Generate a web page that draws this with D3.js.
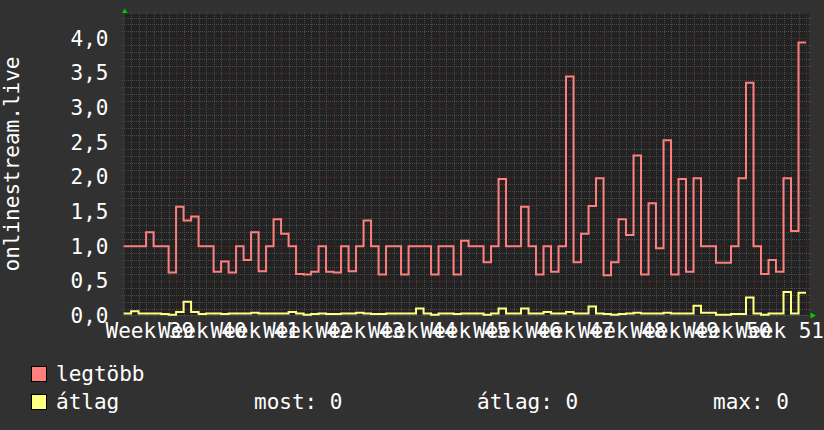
<!DOCTYPE html>
<html>
<head>
  <meta charset="utf-8">
  <title>onlinestream.live</title>
  <script src="https://d3js.org/d3.v7.min.js"></script>
  <style>
    body { margin: 0; background: #313131; }
    text { font-family: "DejaVu Sans Mono", monospace; fill: #ffffff; }
  </style>
</head>
<body>
  <svg id="chart"></svg>

  <script>
    // napi értékek, Week 39 hétfőtől
    var weekLabels = ['Week 39', 'Week 40', 'Week 41', 'Week 42', 'Week 43', 'Week 44', 'Week 45',
      'Week 46', 'Week 47', 'Week 48', 'Week 49', 'Week 50', 'Week 51'];

    var legtobb = [
      1.0, 1.0, 1.0, 1.2, 1.0, 1.0, 0.62, 1.57, 1.37, 1.43,
      1.0, 1.0, 0.63, 0.78, 0.62, 1.0, 0.8, 1.2, 0.64, 1.0,
      1.39, 1.18, 1.0, 0.6, 0.59, 0.63, 1.0, 0.63, 0.62, 1.0,
      0.64, 1.0, 1.37, 1.0, 0.59, 1.0, 1.0, 0.59, 1.0, 1.0,
      1.0, 0.59, 1.0, 1.0, 0.59, 1.08, 1.0, 1.0, 0.77, 1.0,
      1.97, 1.0, 1.0, 1.57, 1.0, 0.59, 1.0, 0.63, 1.0, 3.45,
      0.77, 1.18, 1.58, 1.98, 0.58, 0.77, 1.39, 1.16, 2.31, 0.59,
      1.62, 0.97, 2.53, 0.59, 1.97, 0.63, 1.98, 1.0, 1.0, 0.76,
      0.76, 1.0, 1.98, 3.36, 1.0, 0.6, 0.8, 0.63, 1.98, 1.22,
      3.94
    ];

    var atlag = [
      0.03, 0.06, 0.03, 0.03, 0.03, 0.02, 0.01, 0.05, 0.2, 0.05,
      0.02, 0.03, 0.03, 0.02, 0.03, 0.03, 0.03, 0.04, 0.03, 0.03,
      0.03, 0.03, 0.05, 0.03, 0.01, 0.02, 0.03, 0.02, 0.02, 0.03,
      0.03, 0.04, 0.03, 0.02, 0.02, 0.03, 0.03, 0.03, 0.03, 0.1,
      0.03, 0.01, 0.03, 0.03, 0.02, 0.03, 0.03, 0.03, 0.01, 0.03,
      0.1, 0.03, 0.03, 0.1, 0.03, 0.03, 0.05, 0.03, 0.03, 0.05,
      0.03, 0.03, 0.13, 0.03, 0.02, 0.01, 0.02, 0.03, 0.04, 0.03,
      0.03, 0.03, 0.04, 0.03, 0.03, 0.03, 0.14, 0.04, 0.04, 0.01,
      0.01, 0.02, 0.02, 0.26, 0.03, 0.01, 0.03, 0.03, 0.34, 0.03,
      0.33
    ];

    var yTicks = [0, 0.5, 1.0, 1.5, 2.0, 2.5, 3.0, 3.5, 4.0];
    var statLabels = ['most: 0', 'átlag: 0', 'max: 0'];

    var svgWidth = 824;
    var svgHeight = 430;
    var plotLeft = 124, plotRight = 809, plotTop = 14, plotBottom = 315.5;

    var svg = d3.select('#chart')
      .attr('width', svgWidth)
      .attr('height', svgHeight);

    svg.append('rect')
      .attr('width', svgWidth)
      .attr('height', svgHeight)
      .attr('fill', '#313131');

    var x = d3.scaleLinear()
      .domain([0, 91.4])
      .range([123.6, plotRight]);

    var y = d3.scaleLinear()
      .domain([0, 4])
      .range([plotBottom, 38.3]);

    svg.append('rect')
      .attr('x', plotLeft)
      .attr('y', plotTop)
      .attr('width', plotRight - plotLeft)
      .attr('height', plotBottom - plotTop)
      .attr('fill', '#222222');

    // rács: napi / heti függőleges, 0,1 / 0,5 vízszintes
    var days = d3.range(1, 92);
    svg.append('g').selectAll('line')
      .data(days)
      .enter().append('line')
      .attr('x1', function(d) { return Math.round(x(d)) + 0.5; })
      .attr('x2', function(d) { return Math.round(x(d)) + 0.5; })
      .attr('y1', plotTop - 2)
      .attr('y2', plotBottom + 2)
      .attr('stroke', function(d) { return d % 7 === 0 ? '#542b2b' : '#4a4a4a'; })
      .attr('stroke-dasharray', '1,1');

    var tenths = d3.range(1, 44);
    svg.append('g').selectAll('line')
      .data(tenths)
      .enter().append('line')
      .attr('x1', plotLeft - 2)
      .attr('x2', plotRight + 2)
      .attr('y1', function(d) { return Math.round(y(d / 10)) + 0.5; })
      .attr('y2', function(d) { return Math.round(y(d / 10)) + 0.5; })
      .attr('stroke', function(d) { return d % 5 === 0 ? '#542b2b' : '#4a4a4a'; })
      .attr('stroke-dasharray', '1,1');

    // tengelyek
    svg.append('line')
      .attr('x1', plotLeft - 2).attr('x2', plotRight + 2)
      .attr('y1', plotBottom).attr('y2', plotBottom)
      .attr('stroke', '#444444');
    svg.append('line')
      .attr('x1', plotLeft).attr('x2', plotLeft)
      .attr('y1', plotTop - 2).attr('y2', plotBottom + 2)
      .attr('stroke', '#3a3a3a');

    svg.append('path')
      .attr('d', 'M122,13 L127.5,13 L124.75,8.5 Z')
      .attr('fill', '#00cc00');
    svg.append('path')
      .attr('d', 'M810.5,312.5 L810.5,318.5 L816,315.5 Z')
      .attr('fill', '#00cc00');

    // adatvonalak
    function stepPoints(values) {
      var pts = values.map(function(v, i) { return [i, v]; });
      pts.push([values.length, values[values.length - 1]]);
      return pts;
    }

    var line = d3.line()
      .x(function(d) { return x(d[0]); })
      .y(function(d) { return y(d[1]); })
      .curve(d3.curveStepAfter);

    svg.append('path')
      .datum(stepPoints(legtobb))
      .attr('d', line)
      .attr('fill', 'none')
      .attr('stroke', '#ff7f7f')
      .attr('stroke-width', 2)
      .attr('stroke-linejoin', 'miter');

    svg.append('path')
      .datum(stepPoints(atlag))
      .attr('d', line)
      .attr('fill', 'none')
      .attr('stroke', '#ffff80')
      .attr('stroke-width', 2)
      .attr('stroke-linejoin', 'miter');

    // feliratok
    svg.append('g').selectAll('text')
      .data(yTicks)
      .enter().append('text')
      .attr('x', 108.5)
      .attr('y', function(d) { return y(d) + 7.5; })
      .attr('text-anchor', 'end')
      .attr('font-size', 21)
      .text(function(d) { return d.toFixed(1).replace('.', ','); });

    svg.append('g').selectAll('text')
      .data(weekLabels)
      .enter().append('text')
      .attr('x', function(d, i) { return x(i * 7 + 3.5); })
      .attr('y', 338)
      .attr('text-anchor', 'middle')
      .attr('font-size', 21)
      .text(function(d) { return d; });

    svg.append('text')
      .attr('transform', 'translate(18.5,164) rotate(-90)')
      .attr('text-anchor', 'middle')
      .attr('font-size', 21)
      .text('onlinestream.live');

    // jelmagyarázat
    var legend = [
      { name: 'legtöbb', color: '#ff7f7f', y: 374 },
      { name: 'átlag', color: '#ffff80', y: 402 }
    ];
    var lg = svg.append('g').selectAll('g')
      .data(legend)
      .enter().append('g');
    lg.append('rect')
      .attr('x', 31.5)
      .attr('y', function(d) { return d.y - 7.5; })
      .attr('width', 15)
      .attr('height', 15)
      .attr('fill', function(d) { return d.color; })
      .attr('stroke', '#000');
    lg.append('text')
      .attr('x', 56)
      .attr('y', function(d) { return d.y + 7; })
      .attr('font-size', 21)
      .text(function(d) { return d.name; });

    svg.append('g').selectAll('text')
      .data(statLabels)
      .enter().append('text')
      .attr('x', function(d, i) { return [254, 477, 713][i]; })
      .attr('y', 409)
      .attr('font-size', 21)
      .text(function(d) { return d; });
  </script>
</body>
</html>
